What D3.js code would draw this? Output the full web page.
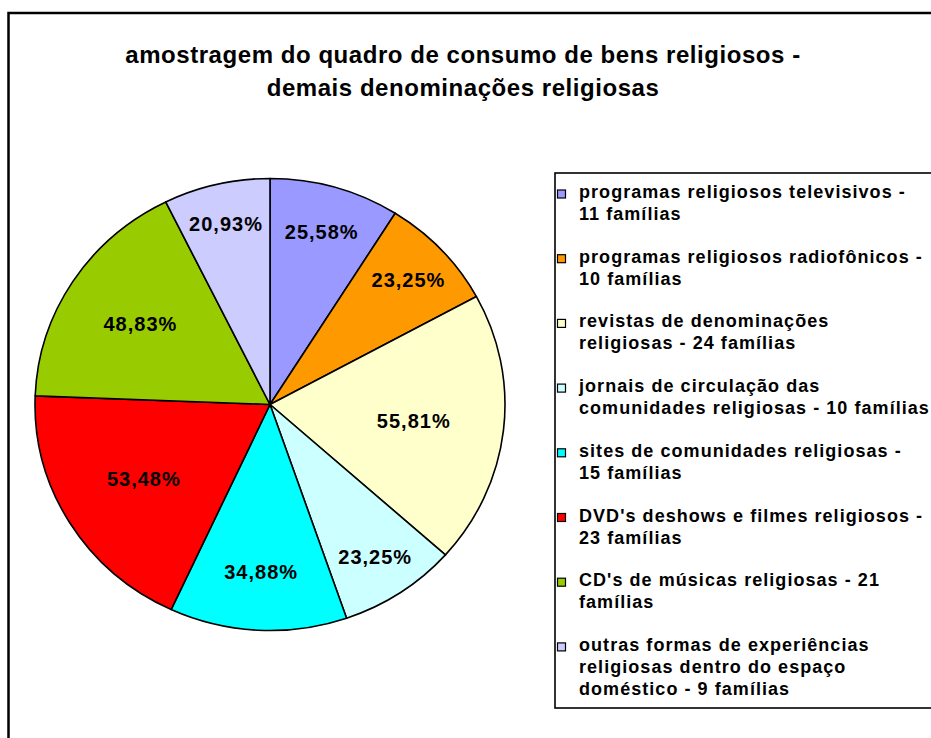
<!DOCTYPE html>
<html>
<head>
<meta charset="utf-8">
<script src="https://cdn.jsdelivr.net/npm/d3@7"></script>
<style>
  html, body { margin: 0; padding: 0; background: #fff; }
  svg { display: block; font-family: Arial, "Liberation Sans", sans-serif; }
</style>
</head>
<body>
<svg id="chart" width="931" height="738"></svg>
<script>
// ---- data ----
const titleLines = ["amostragem do quadro de consumo de bens religiosos -", "demais denominações religiosas"];
const categories = [
  "programas religiosos televisivos - 11 famílias",
  "programas religiosos radiofônicos - 10 famílias",
  "revistas de denominações religiosas - 24 famílias",
  "jornais de circulação das comunidades religiosas - 10 famílias",
  "sites de comunidades religiosas - 15 famílias",
  "DVD's deshows e filmes religiosos - 23 famílias",
  "CD's de músicas religiosas - 21 famílias",
  "outras formas de experiências religiosas dentro do espaço doméstico - 9 famílias"
];
const legendLines = [
  ["programas religiosos televisivos -", "11 famílias"],
  ["programas religiosos radiofônicos -", "10 famílias"],
  ["revistas de denominações", "religiosas - 24 famílias"],
  ["jornais de circulação das", "comunidades religiosas - 10 famílias"],
  ["sites de comunidades religiosas -", "15 famílias"],
  ["DVD's deshows e filmes religiosos -", "23 famílias"],
  ["CD's de músicas religiosas - 21", "famílias"],
  ["outras formas de experiências", "religiosas dentro do espaço", "doméstico - 9 famílias"]
];
const families = [11, 10, 24, 10, 15, 23, 21, 9];
const percentLabels = ["25,58%", "23,25%", "55,81%", "23,25%", "34,88%", "53,48%", "48,83%", "20,93%"];
const colors = ["#9999FF", "#FF9900", "#FFFFCC", "#CCFFFF", "#00FFFF", "#FF0000", "#99CC00", "#CCCCFF"];

// ---- drawing ----
const svg = d3.select("#chart");

// outer frame (extends past the right/bottom edge)
svg.append("rect")
  .attr("x", 8.5).attr("y", 13).attr("width", 1100).attr("height", 1100)
  .attr("fill", "#fff").attr("stroke", "#000").attr("stroke-width", 2.5);

// title
const title = svg.append("text")
  .attr("text-anchor", "middle")
  .attr("font-size", 24).attr("font-weight", "bold")
  .attr("letter-spacing", 0.55).attr("fill", "#000");
titleLines.forEach((t, i) => {
  title.append("tspan").attr("x", 463).attr("y", 63 + i * 33).text(t);
});

// pie
const cx = 270, cy = 404.5, rx = 235, ry = 226;
const yScale = ry / rx;
const pie = d3.pie().sort(null).value(d => d)(families);
const arc = d3.arc().innerRadius(0).outerRadius(rx);

const g = svg.append("g").attr("transform", `translate(${cx},${cy}) scale(1,${yScale})`);
g.selectAll("path").data(pie).join("path")
  .attr("d", arc)
  .attr("fill", (d, i) => colors[i])
  .attr("stroke", "#000")
  .attr("stroke-width", 1.6)
  .attr("stroke-linejoin", "round")
  .attr("vector-effect", "non-scaling-stroke");

// labels: radius shrinks as the slice widens (best-fit style placement)
svg.append("g").selectAll("text").data(pie).join("text")
  .attr("transform", d => {
    const span = (d.endAngle - d.startAngle) * 180 / Math.PI;
    const r = 222 - 1.1 * span;
    const [x, y] = d3.arc().innerRadius(r).outerRadius(r).centroid(d);
    return `translate(${cx + x},${cy + y * yScale})`;
  })
  .attr("text-anchor", "middle")
  .attr("dy", "0.36em")
  .attr("font-size", 20).attr("font-weight", "bold")
  .attr("letter-spacing", 1)
  .attr("fill", "#000")
  .text((d, i) => percentLabels[i]);

// legend
const lgX = 555, lgY = 173;
svg.append("rect")
  .attr("x", lgX).attr("y", lgY).attr("width", 500).attr("height", 708 - lgY)
  .attr("fill", "#fff").attr("stroke", "#000").attr("stroke-width", 1.6);

const itemStep = 64.7, lineStep = 22, firstBase = 198;
const items = svg.append("g").selectAll("g").data(categories).join("g")
  .attr("transform", (d, i) => `translate(0,${firstBase + i * itemStep})`);
items.append("rect")
  .attr("x", 557.5).attr("y", -8).attr("width", 8).attr("height", 8)
  .attr("fill", (d, i) => colors[i])
  .attr("stroke", "#000").attr("stroke-width", 1.2);
items.append("text")
  .attr("font-size", 18).attr("font-weight", "bold")
  .attr("letter-spacing", 1.05).attr("fill", "#000")
  .each(function (d, i) {
    const t = d3.select(this);
    legendLines[i].forEach((ln, j) => {
      t.append("tspan").attr("x", 579).attr("y", j * lineStep).text(ln);
    });
  });
</script>
</body>
</html>
